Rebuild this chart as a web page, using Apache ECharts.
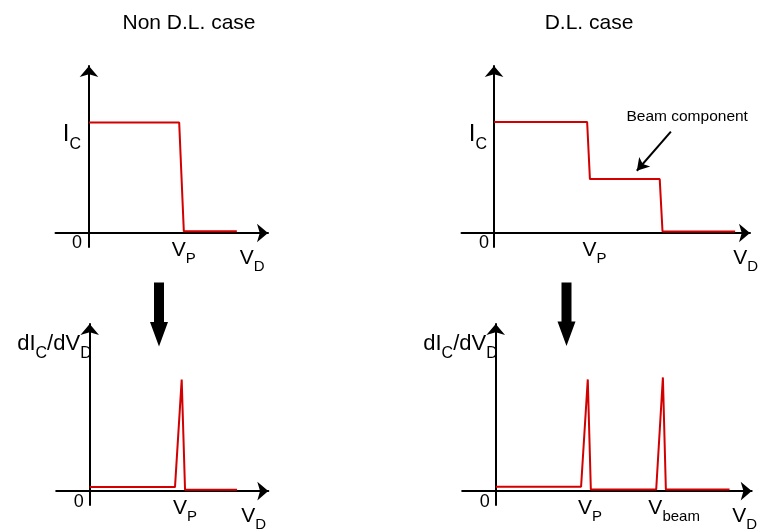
<!DOCTYPE html>
<html>
<head>
<meta charset="utf-8">
<script src="https://cdn.jsdelivr.net/npm/echarts@6/dist/echarts.min.js"></script>
<style>
  html, body { margin: 0; padding: 0; background: #fff; }
  #chart { width: 761px; height: 531px; }
</style>
</head>
<body>
<div id="chart"></div>
<script>
// Collector current I_C against probe voltage V_D, and its derivative,
// without (left) and with (right) a double layer.
const ivNonDL   = [[0, 9.95], [9.7, 9.95], [10.2, 0.15], [15.9, 0.15]];
const ivDL      = [[0, 10], [10.0, 10], [10.3, 4.86], [17.8, 4.86], [18.1, 0.14], [25.9, 0.14]];
const dIdVNonDL = [[0, 0.36], [9.17, 0.36], [9.89, 10.04], [10.25, 0.13], [15.84, 0.13]];
const dIdVDL    = [[0, 0.39], [9.17, 0.39], [9.89, 10.06], [10.22, 0.15], [17.24, 0.15],
                   [17.96, 10.24], [18.28, 0.15], [25.12, 0.15]];

const panelTitles = ['Non D.L. case', 'D.L. case'];
const beamNote = 'Beam component';
// pointer from the note to the middle step (start, tip) in the D.L. I-V axes
const beamPointer = [[19.0, 9.13], [15.34, 5.61]];

// axis extents per panel: [xMin, xMax]
const xRanges = [[-3.6, 19.25], [-3.5, 27.5], [-3.6, 19.2], [-3.6, 27.5]];
const yRange = [-1.25, 15.05];

const FONT = '"Liberation Sans", Arial, Helvetica, sans-serif';
const RED = '#d20000';

const grids = [
  { left: 55.5,  right: 493,   top: 66,  bottom: 284.1 },
  { left: 461.5, right: 11,    top: 66,  bottom: 284.1 },
  { left: 56.2,  right: 492.7, top: 324, bottom: 26 },
  { left: 462.2, right: 9.3,   top: 324, bottom: 26 }
];

const axisLine = {
  onZero: true,
  symbol: ['none', 'arrow'],
  symbolSize: [14, 11],
  lineStyle: { color: '#000', width: 2 }
};

const xAxes = xRanges.map((r, i) => ({
  type: 'value', gridIndex: i, min: r[0], max: r[1],
  axisLine: axisLine, axisTick: { show: false }, axisLabel: { show: false },
  splitLine: { show: false }
}));
const yAxes = xRanges.map((r, i) => ({
  type: 'value', gridIndex: i, min: yRange[0], max: yRange[1],
  axisLine: axisLine, axisTick: { show: false }, axisLabel: { show: false },
  splitLine: { show: false }
}));

function curve(i, data, extra) {
  return Object.assign({
    type: 'line', xAxisIndex: i, yAxisIndex: i, data: data,
    symbol: 'none', silent: true,
    lineStyle: { color: RED, width: 2 }
  }, extra || {});
}

const series = [
  curve(0, ivNonDL),
  curve(1, ivDL, {
    markLine: {
      silent: true,
      symbol: ['none', 'arrow'],
      symbolSize: [11, 12],
      label: { show: false },
      lineStyle: { color: '#000', width: 2, type: 'solid' },
      data: [[{ coord: beamPointer[0] }, { coord: beamPointer[1] }]]
    }
  }),
  curve(2, dIdVNonDL),
  curve(3, dIdVDL)
];

const chart = echarts.init(document.getElementById('chart'), null, { renderer: 'canvas' });
chart.setOption({
  animation: false,
  backgroundColor: '#fff',
  grid: grids,
  xAxis: xAxes,
  yAxis: yAxes,
  series: series
});

// rich styles: main glyphs and subscripts whose baseline sits `drop` px lower
function richFor(main, sub, drop) {
  return {
    m: { fontSize: main, fontFamily: FONT, fill: '#000', verticalAlign: 'top' },
    s: { fontSize: sub, fontFamily: FONT, fill: '#000', verticalAlign: 'bottom',
         lineHeight: drop + 0.85 * main + 0.15 * sub }
  };
}

// text annotations anchored to axis coordinates of each panel (plus pixel nudges)
const notes = [
  // top-left
  { g: 0, at: [0, 10],     text: '{m|I}{s|C}',  align: 'right', dx: -8, dy: 0.5, main: 24, sub: 16 },
  { g: 0, at: [0, 0],      text: '0', plain: 18, align: 'center', va: 'middle', dx: -12, dy: 10 },
  { g: 0, at: [8.9, 0],    text: '{m|V}{s|P}',  align: 'left', dx: 0, dy: 6.5, main: 21, sub: 15 },
  { g: 0, at: [16.2, 0],   text: '{m|V}{s|D}',  align: 'left', dx: 0, dy: 14.5, main: 21, sub: 15 },
  // top-right
  { g: 1, at: [0, 10],     text: '{m|I}{s|C}',  align: 'right', dx: -7, dy: 0.5, main: 24, sub: 16 },
  { g: 1, at: [0, 0],      text: '0', plain: 18, align: 'center', va: 'middle', dx: -10, dy: 10 },
  { g: 1, at: [9.5, 0],    text: '{m|V}{s|P}',  align: 'left', dx: 0, dy: 6.5, main: 21, sub: 15 },
  { g: 1, at: [25.7, 0],   text: '{m|V}{s|D}',  align: 'left', dx: 0, dy: 14.5, main: 21, sub: 15 },
  { g: 1, at: [20.75, 10.45], text: beamNote, plain: 15.5, align: 'center', va: 'middle', dx: 0, dy: 0 },
  // bottom-left
  { g: 2, at: [0, 14.5],   text: '{m|dI}{s|C}{m|/dV}{s|D}', align: 'right', dx: 2, dy: 3, main: 22, sub: 16 },
  { g: 2, at: [0, 0],      text: '0', plain: 18, align: 'center', va: 'middle', dx: -11, dy: 10.5 },
  { g: 2, at: [8.95, 0],   text: '{m|V}{s|P}',  align: 'left', dx: 0, dy: 6.5, main: 21, sub: 15 },
  { g: 2, at: [16.3, 0],   text: '{m|V}{s|D}',  align: 'left', dx: 0, dy: 14.5, main: 21, sub: 15 },
  // bottom-right
  { g: 3, at: [0, 14.5],   text: '{m|dI}{s|C}{m|/dV}{s|D}', align: 'right', dx: 2, dy: 3, main: 22, sub: 16 },
  { g: 3, at: [0, 0],      text: '0', plain: 18, align: 'center', va: 'middle', dx: -11, dy: 10.5 },
  { g: 3, at: [8.85, 0],   text: '{m|V}{s|P}',  align: 'left', dx: 0, dy: 6.5, main: 21, sub: 15 },
  { g: 3, at: [16.4, 0],   text: '{m|V}{s|beam}', align: 'left', dx: 0, dy: 6.5, main: 21, sub: 15 },
  { g: 3, at: [25.4, 0],   text: '{m|V}{s|D}',  align: 'left', dx: 0, dy: 14.5, main: 21, sub: 15 }
];

const graphics = [];

panelTitles.forEach((t, i) => {
  graphics.push({
    type: 'text', silent: true,
    style: { text: t, x: [189, 589][i], y: 23, align: 'center', verticalAlign: 'middle',
             fontSize: 21, fontFamily: FONT, fill: '#000' }
  });
});

notes.forEach(n => {
  const p = chart.convertToPixel({ gridIndex: n.g }, n.at);
  const style = { x: p[0] + n.dx, y: p[1] + n.dy, align: n.align,
                  verticalAlign: n.va || 'top', fill: '#000', text: n.text };
  if (n.plain) {
    style.fontSize = n.plain; style.fontFamily = FONT;
  } else {
    style.rich = richFor(n.main, n.sub, 7);
    style.fontFamily = FONT;
  }
  graphics.push({ type: 'text', silent: true, style: style });
});

// thick "derivative" arrows between the rows
function downArrow(cx, top, tip) {
  const sw = 5, hw = 9, headTop = tip - 24.5;
  return {
    type: 'polygon', silent: true,
    shape: { points: [[cx - sw, top], [cx + sw, top], [cx + sw, headTop], [cx + hw, headTop],
                      [cx, tip], [cx - hw, headTop], [cx - sw, headTop]] },
    style: { fill: '#000' }
  };
}
graphics.push(downArrow(159, 282.5, 346.5));
graphics.push(downArrow(566.5, 282.5, 346));

chart.setOption({ graphic: graphics });
</script>
</body>
</html>
